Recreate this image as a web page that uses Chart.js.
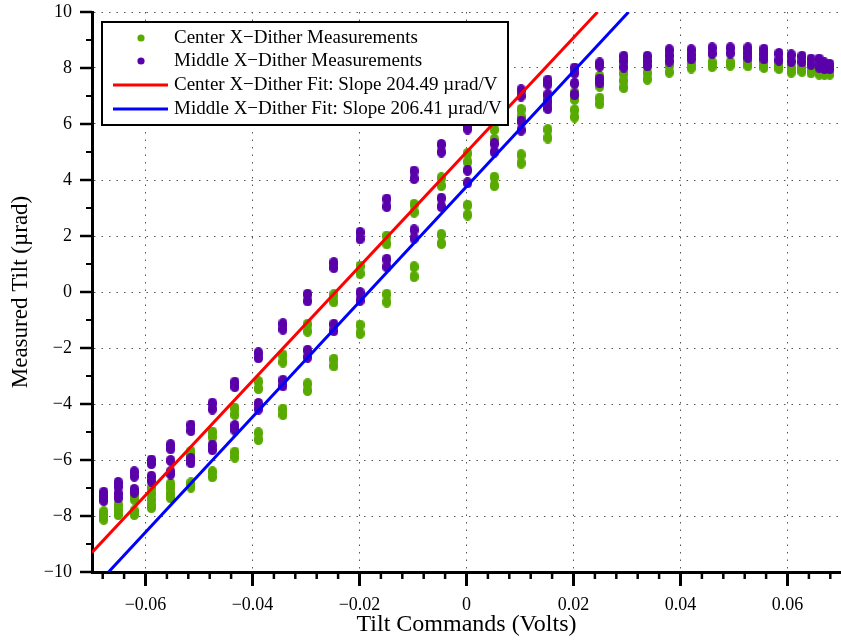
<!DOCTYPE html>
<html>
<head>
<meta charset="utf-8">
<title>Tilt vs command</title>
<script src="https://cdn.jsdelivr.net/npm/chart.js@4.4.1/dist/chart.umd.min.js"></script>
<style>
  html, body { margin: 0; padding: 0; background: #fff; }
  #wrap { width: 841px; height: 642px; }
</style>
</head>
<body>
<div id="wrap"><canvas id="tilt-chart"></canvas></div>
<script>
// tilt command of each measurement column (volts)
const tiltCommand = [-0.0678, -0.0651, -0.0621, -0.0589, -0.0553, -0.0515, -0.0475, -0.0433, -0.0389,
  -0.0343, -0.0297, -0.0248, -0.0199, -0.0149, -0.0098, -0.0047, 0.0002, 0.0052, 0.0102, 0.0152,
  0.0202, 0.0249, 0.0294, 0.0338, 0.0379, 0.0420, 0.0459, 0.0493, 0.0526, 0.0556, 0.0584, 0.0607,
  0.0627, 0.0644, 0.0659, 0.0669, 0.0679];

// measured tilt (urad) for each column, center x-dither
const centerTilt = [
  [-7.85, -8.0, -8.12], [-7.6, -7.78, -7.95], [-7.25, -7.4, -7.82, -7.95], [-7.0, -7.2, -7.4, -7.6, -7.7],
  [-6.85, -7.0, -7.2, -7.35], [-5.7, -5.85, -6.82, -6.97], [-5.0, -5.18, -6.42, -6.6], [-4.15, -4.38, -5.72, -5.9],
  [-3.2, -3.45, -5.03, -5.27], [-2.25, -2.5, -4.18, -4.38], [-1.15, -1.4, -3.28, -3.52], [-0.1, -0.35, -2.4, -2.64],
  [0.92, 0.66, -1.18, -1.48], [2.0, 1.72, -0.08, -0.36], [3.13, 2.85, 0.9, 0.55], [4.08, 3.8, 2.05, 1.73],
  [4.95, 4.65, 3.1, 2.75], [5.8, 5.45, 4.1, 3.8], [6.52, 6.26, 4.9, 4.6], [6.9, 6.65, 5.8, 5.5],
  [7.12, 6.88, 6.5, 6.25], [7.7, 7.35, 6.92, 6.72], [7.8, 7.55, 7.3], [7.82, 7.6],
  [8.1, 7.85], [8.15, 8.0], [8.2, 8.05], [8.2, 8.1], [8.2, 8.08], [8.15, 8.02], [8.1, 7.98],
  [8.0, 7.85], [8.0, 7.88], [7.95, 7.83], [7.88, 7.78], [7.85, 7.78], [7.85, 7.78]
];

// measured tilt (urad) for each column, middle x-dither
const middleTilt = [
  [-7.15, -7.3, -7.45], [-6.8, -6.95, -7.2, -7.35], [-6.42, -6.58, -7.05, -7.15], [-6.0, -6.13, -6.58, -6.75],
  [-5.45, -5.6, -6.02, -6.42, -6.5], [-4.75, -4.95, -5.95, -6.1], [-3.97, -4.18, -5.47, -5.63], [-3.22, -3.38, -4.77, -4.93],
  [-2.17, -2.35, -3.98, -4.18], [-1.13, -1.33, -3.15, -3.35], [-0.08, -0.32, -2.08, -2.33], [1.05, 0.87, -1.15, -1.38],
  [2.13, 1.9, -0.02, -0.3], [3.32, 3.05, 1.17, 0.9], [4.32, 4.05, 2.22, 1.92], [5.27, 5.0, 3.35, 3.05],
  [5.95, 5.82, 4.35, 3.9], [6.92, 6.72, 5.3, 5.0], [7.22, 7.0, 6.1, 5.78], [7.57, 7.42, 7.05, 6.8, 6.55],
  [8.0, 7.82, 7.45, 7.05], [8.18, 8.07, 7.6, 7.47], [8.42, 8.25, 8.03], [8.42, 8.25, 8.08],
  [8.65, 8.45, 8.25], [8.65, 8.48, 8.33], [8.72, 8.52], [8.72, 8.53], [8.72, 8.55, 8.38], [8.67, 8.5, 8.33],
  [8.52, 8.28], [8.47, 8.23], [8.42, 8.22], [8.32, 8.13], [8.32, 8.03], [8.18, 7.98], [8.13, 7.98]
];

// fit lines, end points
const centerFitX = [-0.07, 0.0245];
const centerFitY = [-9.3, 10.0];
const middleFitX = [-0.0669, 0.0303];
const middleFitY = [-10.0, 10.0];

const seriesLabels = [
  "Center X\u2212Dither Measurements",
  "Middle X\u2212Dither Measurements",
  "Center X\u2212Dither Fit: Slope 204.49 \u00b5rad/V",
  "Middle X\u2212Dither Fit: Slope 206.41 \u00b5rad/V"
];

const xMajorTicks = [-0.06, -0.04, -0.02, 0, 0.02, 0.04, 0.06];
const xMinorTicks = [-0.068, -0.064, -0.056, -0.052, -0.048, -0.044, -0.036, -0.032, -0.028, -0.024,
  -0.016, -0.012, -0.008, -0.004, 0.004, 0.008, 0.012, 0.016, 0.024, 0.028, 0.032, 0.036,
  0.044, 0.048, 0.052, 0.056, 0.064, 0.068];
const yMajorTicks = [-10, -8, -6, -4, -2, 0, 2, 4, 6, 8, 10];
const yMinorTicks = [-9, -7, -5, -3, -1, 1, 3, 5, 7, 9];

const green = "#58aa00";
const purple = "#5a00aa";
const fitRed = "#ff0000";
const fitBlue = "#0000ff";

function columnPoints(xs, ys) {
  return xs.flatMap((x, i) => ys[i].map((y) => ({ x: x, y: y })));
}
function linePoints(xs, ys) {
  return xs.map((x, i) => ({ x: x, y: ys[i] }));
}
function minus(txt) {
  return txt.replace("-", "\u2212");
}

// small upright capsule used as the marker, so stacked readings merge into blobs
function capsule(color) {
  const c = document.createElement("canvas");
  c.width = 9;
  c.height = 11;
  const g = c.getContext("2d");
  g.fillStyle = color;
  g.beginPath();
  g.arc(4.5, 4.5, 4.5, Math.PI, 0);
  g.lineTo(9, 6.5);
  g.arc(4.5, 6.5, 4.5, 0, Math.PI);
  g.closePath();
  g.fill();
  return c;
}

// outward tick marks, long on majors and short on minors
const tickMarks = {
  id: "tickMarks",
  afterDraw(chart) {
    const { ctx, chartArea, scales } = chart;
    ctx.save();
    ctx.strokeStyle = "#000";
    function seg(x1, y1, x2, y2, w) {
      ctx.lineWidth = w;
      ctx.beginPath();
      ctx.moveTo(x1, y1);
      ctx.lineTo(x2, y2);
      ctx.stroke();
    }
    xMajorTicks.forEach((v) => {
      const px = scales.x.getPixelForValue(v);
      seg(px, chartArea.bottom, px, chartArea.bottom + 14, 3);
    });
    xMinorTicks.forEach((v) => {
      const px = scales.x.getPixelForValue(v);
      seg(px, chartArea.bottom, px, chartArea.bottom + 7, 2.5);
    });
    yMajorTicks.forEach((v) => {
      const py = scales.y.getPixelForValue(v);
      seg(chartArea.left - 12, py, chartArea.left, py, 2.5);
    });
    yMinorTicks.forEach((v) => {
      const py = scales.y.getPixelForValue(v);
      seg(chartArea.left - 6, py, chartArea.left, py, 2);
    });
    ctx.restore();
  }
};

// boxed legend inside the plot, top left
const boxLegend = {
  id: "boxLegend",
  afterDraw(chart) {
    const ctx = chart.ctx;
    const left = 102, top = 22, width = 406, height = 103;
    ctx.save();
    ctx.fillStyle = "#fff";
    ctx.fillRect(left, top, width, height);
    ctx.strokeStyle = "#000";
    ctx.lineWidth = 2;
    ctx.strokeRect(left, top, width, height);
    ctx.font = "19px 'Liberation Serif', 'Times New Roman', serif";
    ctx.textBaseline = "middle";
    ctx.textAlign = "left";
    const rows = [38, 61, 85, 109];
    chart.data.datasets.forEach((ds, i) => {
      const y = rows[i];
      if (ds.showLine) {
        ctx.strokeStyle = ds.borderColor;
        ctx.lineWidth = 3;
        ctx.beginPath();
        ctx.moveTo(113, y);
        ctx.lineTo(168, y);
        ctx.stroke();
      } else {
        ctx.fillStyle = ds.backgroundColor;
        ctx.beginPath();
        ctx.arc(141, y, 3.6, 0, Math.PI * 2);
        ctx.fill();
      }
      ctx.fillStyle = "#000";
      ctx.fillText(ds.label, 174, y);
    });
    ctx.restore();
  }
};

// drop the label padding chart.js reserves so the plot fills its box
function noEdgePadding(scale) {
  scale.paddingTop = 0;
  scale.paddingBottom = 0;
  scale.paddingLeft = 0;
  scale.paddingRight = 0;
}

Chart.defaults.font.family = "'Liberation Serif', 'Times New Roman', serif";
Chart.defaults.color = "#000";

const canvas = document.getElementById("tilt-chart");
new Chart(canvas.getContext("2d"), {
  type: "scatter",
  data: {
    datasets: [
      { label: seriesLabels[0], data: columnPoints(tiltCommand, centerTilt), backgroundColor: green,
        pointStyle: capsule(green), pointRadius: 5, order: 3 },
      { label: seriesLabels[1], data: columnPoints(tiltCommand, middleTilt), backgroundColor: purple,
        pointStyle: capsule(purple), pointRadius: 5, order: 2 },
      { label: seriesLabels[2], data: linePoints(centerFitX, centerFitY), showLine: true, fill: false,
        borderColor: fitRed, borderWidth: 3, pointRadius: 0, order: 1 },
      { label: seriesLabels[3], data: linePoints(middleFitX, middleFitY), showLine: true, fill: false,
        borderColor: fitBlue, borderWidth: 3, pointRadius: 0, order: 0 }
    ]
  },
  options: {
    responsive: true,
    maintainAspectRatio: false,
    animation: false,
    layout: { autoPadding: false, padding: { top: 12, right: 0, bottom: 0, left: 0 } },
    plugins: { legend: { display: false }, tooltip: { enabled: false } },
    scales: {
      x: {
        type: "linear",
        min: -0.07,
        max: 0.07,
        afterBuildTicks: (scale) => { scale.ticks = xMajorTicks.map((v) => ({ value: v })); },
        afterFit: (scale) => { scale.height = 70; noEdgePadding(scale); },
        grid: { color: "#555", lineWidth: 1, drawTicks: false },
        border: { color: "#000", width: 3, dash: [1.5, 6] },
        ticks: {
          padding: 22,
          font: { size: 18 },
          maxRotation: 0,
          autoSkip: false,
          callback: (v) => (v === 0 ? "0" : minus(v.toFixed(2)))
        },
        title: { display: true, text: "Tilt Commands (Volts)", font: { size: 24 }, padding: { top: 0, bottom: 3 } }
      },
      y: {
        type: "linear",
        min: -10,
        max: 10,
        afterBuildTicks: (scale) => { scale.ticks = yMajorTicks.map((v) => ({ value: v })); },
        afterFit: (scale) => { scale.width = 92; noEdgePadding(scale); },
        grid: { color: "#555", lineWidth: 1, drawTicks: false },
        border: { color: "#000", width: 3, dash: [1.5, 6] },
        ticks: {
          padding: 20,
          font: { size: 18 },
          callback: (v) => minus(String(v))
        },
        title: { display: true, text: "Measured Tilt (\u00b5rad)", font: { size: 23 }, padding: { top: 7, bottom: 0 } }
      }
    }
  },
  plugins: [tickMarks, boxLegend]
});
</script>
</body>
</html>
